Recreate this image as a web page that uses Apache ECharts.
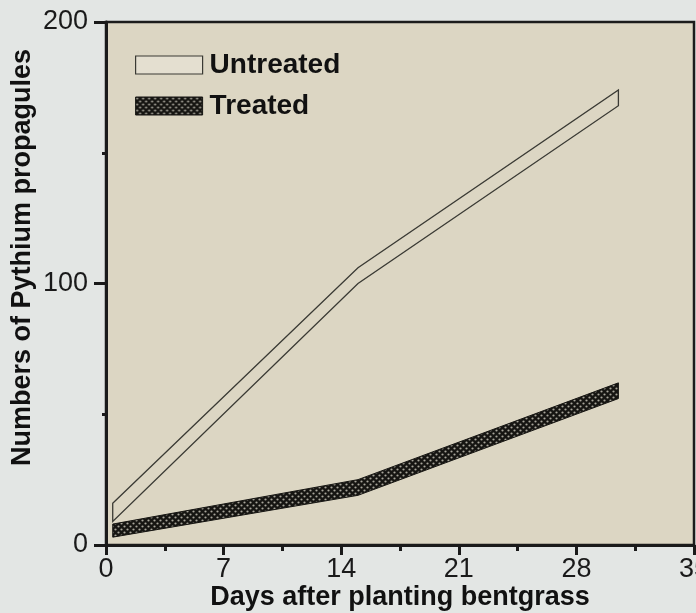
<!DOCTYPE html>
<html>
<head>
<meta charset="utf-8">
<script src="https://cdn.jsdelivr.net/npm/echarts@6/dist/echarts.min.js"></script>
<style>
  html, body { margin: 0; padding: 0; background: #e3e6e4; }
  #chart { width: 696px; height: 613px; }
</style>
</head>
<body>
<div id="chart"></div>
<script>
// ---- data ----
const days = [0.4, 15, 30.5];
const untreatedHigh = [16, 106, 174];
const untreatedLow  = [9, 100, 168];
const treatedHigh   = [8, 25, 62];
const treatedLow    = [3, 19, 56];
const xTicks = [0, 7, 14, 21, 28, 35];
const yTicks = [0, 100, 200];
const seriesNames = ['Untreated', 'Treated'];

// halftone dot pattern for the treated band
function makeDots() {
  const c = document.createElement('canvas');
  c.width = 6; c.height = 6;
  const g = c.getContext('2d');
  g.fillStyle = '#161512';
  g.fillRect(0, 0, 6, 6);
  g.fillStyle = '#a8a59a';
  [[1.5, 1.5], [4.5, 4.5]].forEach(function (p) {
    g.beginPath(); g.arc(p[0], p[1], 1.1, 0, Math.PI * 2); g.fill();
  });
  return c;
}
const dots = { image: makeDots(), repeat: 'repeat' };

function bandSeries(name, hi, lo, fill, stroke, lw) {
  return {
    name: name,
    type: 'custom',
    data: [[days[0], lo[0]]],
    itemStyle: { color: fill, borderColor: stroke, borderWidth: 1 },
    renderItem: function (params, api) {
      const pts = [];
      for (let i = 0; i < days.length; i++) pts.push(api.coord([days[i], hi[i]]));
      for (let i = days.length - 1; i >= 0; i--) pts.push(api.coord([days[i], lo[i]]));
      return {
        type: 'polygon',
        shape: { points: pts },
        style: { fill: fill, stroke: stroke, lineWidth: lw }
      };
    },
    z: 3
  };
}

const chart = echarts.init(document.getElementById('chart'), null, { renderer: 'canvas' });
const font = '"Liberation Sans", Arial, Helvetica, sans-serif';
chart.setOption({
  backgroundColor: '#e3e6e4',
  animation: false,
  textStyle: { fontFamily: font },
  grid: {
    left: 106, right: 2, top: 22, bottom: 68,
    containLabel: false, outerBoundsMode: 'none',
    show: true, backgroundColor: '#dcd6c3', borderColor: '#1c1c1c', borderWidth: 2.5
  },
  legend: {
    orient: 'vertical', left: 135, top: 51,
    itemWidth: 67, itemHeight: 18, itemGap: 13, padding: 0,
    selectedMode: false,
    textStyle: { fontSize: 28, fontWeight: 'bold', color: '#111', fontFamily: font, padding: [0, 0, 0, 2] },
    data: [
      { name: seriesNames[0], icon: 'rect', itemStyle: { color: '#e4dfd0', borderColor: '#3a3a34', borderWidth: 1.2 } },
      { name: seriesNames[1], icon: 'rect', itemStyle: { color: dots, borderColor: '#161512', borderWidth: 1 } }
    ]
  },
  xAxis: {
    type: 'value', min: xTicks[0], max: xTicks[xTicks.length - 1], interval: 7,
    name: 'Days after planting bentgrass', nameLocation: 'middle', nameGap: 39, nameMoveOverlap: false,
    nameTextStyle: { fontSize: 27, fontWeight: 'bold', color: '#111', fontFamily: font },
    axisLine: { show: true, onZero: false, lineStyle: { color: '#1a1a1a', width: 3 } },
    axisTick: { show: true, inside: false, length: 10, lineStyle: { color: '#1a1a1a', width: 3 } },
    minorTick: { show: true, splitNumber: 2, length: 6, lineStyle: { color: '#1a1a1a', width: 3 } },
    axisLabel: { fontSize: 27, color: '#1a1a1a', margin: 11, fontFamily: font, hideOverlap: false,
      formatter: function (v) { return xTicks.indexOf(v) >= 0 ? String(v) : ''; } },
    splitLine: { show: false }
  },
  yAxis: {
    type: 'value', min: yTicks[0], max: yTicks[yTicks.length - 1], interval: 100,
    name: 'Numbers of Pythium propagules', nameLocation: 'middle', nameGap: 70, nameMoveOverlap: false,
    nameTextStyle: { fontSize: 27, fontWeight: 'bold', color: '#111', fontFamily: font, padding: [0, 0, 0, 52] },
    axisLine: { show: true, onZero: false, lineStyle: { color: '#1a1a1a', width: 3 } },
    axisTick: { show: true, inside: false, length: 12, lineStyle: { color: '#1a1a1a', width: 3 } },
    minorTick: { show: true, splitNumber: 2, length: 4, lineStyle: { color: '#1a1a1a', width: 3 } },
    axisLabel: { fontSize: 27, color: '#1a1a1a', margin: 18, fontFamily: font,
      formatter: function (v) { return yTicks.indexOf(v) >= 0 ? String(v) : ''; } },
    splitLine: { show: false }
  },
  series: [
    bandSeries(seriesNames[0], untreatedHigh, untreatedLow, '#dcd6c3', '#3a3a34', 1.3),
    bandSeries(seriesNames[1], treatedHigh, treatedLow, dots, '#161512', 1)
  ]
});
</script>
</body>
</html>
